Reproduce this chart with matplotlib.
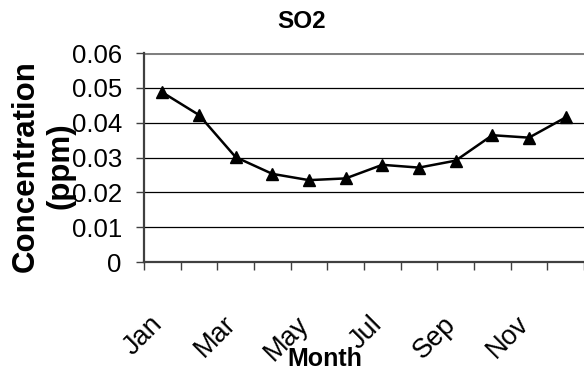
import matplotlib
matplotlib.use("Agg")
import matplotlib.pyplot as plt
import matplotlib.transforms as mtransforms
import numpy as np

months = ["Jan", "Feb", "Mar", "Apr", "May", "Jun",
          "Jul", "Aug", "Sep", "Oct", "Nov", "Dec"]
so2 = [0.0487, 0.0422, 0.0301, 0.0253, 0.0235, 0.0240,
       0.0279, 0.0271, 0.0291, 0.0364, 0.0357, 0.0415]
yticks = [0, 0.01, 0.02, 0.03, 0.04, 0.05, 0.06]

font = ["Liberation Sans", "DejaVu Sans"]

fig = plt.figure(figsize=(5.84, 3.72), dpi=100)
ax = fig.add_axes([144 / 584, 1 - 262 / 372, 1 - 144 / 584, (262 - 53) / 372])

x = np.arange(len(months))
ax.plot(x, so2, color="black", lw=1.8, marker="^", ms=9, zorder=3)

ax.set_xlim(-0.5, 11.5)
ax.set_ylim(0, 0.06)

# gridlines (top one is the grey plot border)
for v in yticks[1:-1]:
    ax.axhline(v, color="black", lw=0.9, zorder=1)
ax.axhline(yticks[-1], color="#808080", lw=2.2, zorder=1)

for s in ["top", "right"]:
    ax.spines[s].set_visible(False)
ax.spines["left"].set_color("#404040")
ax.spines["left"].set_linewidth(1.6)
ax.spines["bottom"].set_color("#404040")
ax.spines["bottom"].set_linewidth(1.6)

ax.set_yticks(yticks)
ax.set_yticklabels(["0" if v == 0 else f"{v:.2f}" for v in yticks],
                   family=font, fontsize=18.5)
ax.tick_params(axis="y", length=6, width=1, color="#404040", pad=10)

# category boundaries as ticks, labels every other month at centres
ax.set_xticks(np.arange(-0.5, 12, 1))
ax.set_xticklabels([])
ax.tick_params(axis="x", which="major", length=6, width=1, color="#404040")
ax.set_xticks(x[::2], minor=True)
ax.set_xticklabels(months[::2], minor=True, rotation=45, ha="right",
                   va="center", rotation_mode="anchor", family=font,
                   fontsize=19.5)
ax.tick_params(axis="x", which="minor", length=0, pad=42)
shift = mtransforms.ScaledTranslation(-4 / 100, 0, fig.dpi_scale_trans)
for lab in ax.get_xticklabels(minor=True):
    lab.set_transform(lab.get_transform() + shift)

fig.text(302 / 584, 1 - 22 / 372, "SO2", ha="center", va="center",
         family=font, fontweight="bold", fontsize=17.5)
fig.text(325 / 584, 1 - 347 / 372, "Month", ha="center", va="top",
         family=font, fontweight="bold", fontsize=18)
fig.text(43 / 584, 1 - 166 / 372, "Concentration\n(ppm)", ha="center",
         va="center", rotation=90, family=font, fontweight="bold",
         fontsize=22.5, linespacing=1.2)

fig.savefig("out.png", dpi=100)
